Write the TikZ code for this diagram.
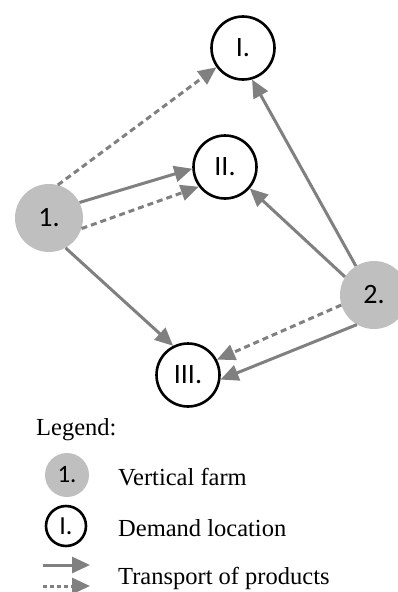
\documentclass[tikz,border=0pt]{standalone}
\usepackage{fontspec}
\setmainfont{Liberation Serif}
\newfontfamily\nodefont{Carlito}
\usetikzlibrary{arrows.meta}

\definecolor{farmgray}{RGB}{191,191,191}
\definecolor{linegray}{RGB}{128,128,128}

\begin{document}
\begin{tikzpicture}[x=1pt,y=-1pt,
    farm node/.style={circle,fill=farmgray,minimum size=68pt,inner sep=0pt,
                      font=\nodefont\fontsize{28}{28}\selectfont},
    demand node/.style={circle,draw,line width=2.6pt,minimum size=63pt,inner sep=0pt,
                        font=\nodefont\fontsize{28}{28}\selectfont},
    route/.style={linegray,line width=3pt,-{Triangle[length=18pt,width=16pt]}},
    backup/.style={route,dash pattern=on 6pt off 4pt},
    legend text/.style={anchor=west,inner sep=0pt,font=\fontsize{24.5}{29}\selectfont}]

  \useasboundingbox (0,0) rectangle (398,592);

  % farms and demand locations
  \node[farm node] (1) at (49,218) {1.};
  \node[farm node] (2) at (374,295) {2.};
  \node[demand node] (I) at (243,48) {I.};
  \node[demand node] (II) at (225,167) {II.};
  \node[demand node] (III) at (188,375) {III.};

  % transport
  \draw[backup] (1.75) -- (I.216);
  \draw[route] (1.27) -- (II.183);
  \draw[backup] (1.-18) -- (II.217);
  \draw[route] (1.-61) -- (III.117);
  \draw[route] (2.122) -- (I.-74);
  \draw[route] (2.148) -- (II.-41);
  \draw[backup] (2.197) -- (III.28);
  \draw[route] (2.240) -- (III.-8);

  % legend
  \node[legend text] (legend) at (36,430) {Legend:};
  \node[farm node,minimum size=44pt,font=\nodefont\fontsize{25}{25}\selectfont] (lf) at (67,475) {1.};
  \node[legend text] (lftext) at (118,477) {Vertical farm};
  \node[demand node,minimum size=40pt,font=\nodefont\fontsize{26}{26}\selectfont] (ld) at (66,526) {I.};
  \node[legend text] (ldtext) at (118,528) {Demand location};
  \coordinate (a1) at (43,565);
  \coordinate (b1) at (90,565);
  \coordinate (a2) at (43,586);
  \coordinate (b2) at (90,586);
  \draw[route] (a1) -- (b1);
  \draw[backup,dash pattern=on 4pt off 3pt] (a2) -- (b2);
  \node[legend text] (lttext) at (118,578) {Transport of products};
\end{tikzpicture}
\end{document}
